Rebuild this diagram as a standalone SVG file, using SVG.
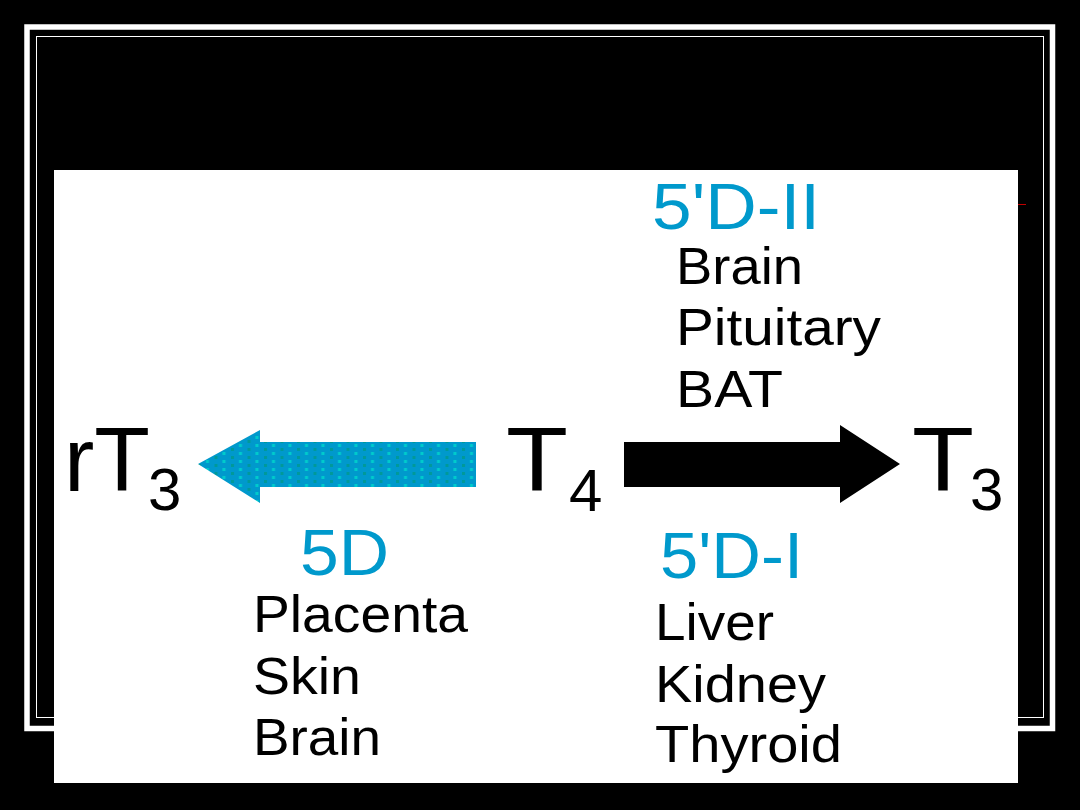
<svg xmlns="http://www.w3.org/2000/svg" width="1080" height="810" viewBox="0 0 1080 810">
  <defs>
    <pattern id="dots" x="0" y="0" width="16.5" height="8" patternUnits="userSpaceOnUse">
      <rect x="0" y="0" width="16.5" height="8" fill="#0099CC"/>
      <rect x="0" y="0" width="3" height="3" fill="#009999"/>
      <rect x="8" y="4" width="3" height="3" fill="#00CCCC"/>
    </pattern>
    <style>
      .big { font-family: "Liberation Sans", Arial, sans-serif; font-size: 91px; fill: #000; }
      .sub { font-family: "Liberation Sans", Arial, sans-serif; font-size: 60px; fill: #000; }
      .enz { font-family: "Liberation Sans", Arial, sans-serif; font-size: 65px; fill: #0099CC; }
      .tis { font-family: "Liberation Sans", Arial, sans-serif; font-size: 52px; fill: #000; }
    </style>
  </defs>
  <rect x="0" y="0" width="1080" height="810" fill="#000"/>
  <g id="frame">
    <rect x="27" y="27" width="1025.5" height="701.5" fill="none" stroke="#fff" stroke-width="5.5"/>
    <rect x="36.5" y="36.5" width="1007" height="681" fill="none" stroke="#fff" stroke-width="1"/>
    <rect x="54" y="170" width="964" height="613" fill="#fff"/>
    <line x1="1018" y1="204.5" x2="1026" y2="204.5" stroke="#C00000" stroke-width="1"/>
  </g>
  <g id="connectors">
    <polygon id="arrow-5D" points="198,464 260,430 260,442 476,442 476,487 260,487 260,503" fill="url(#dots)"/>
    <polygon id="arrow-5DI" points="624,442 840,442 840,425 900,464 840,503 840,487 624,487" fill="#000"/>
  </g>
  <g id="rT3">
    <text class="big" x="64" y="491" textLength="86" lengthAdjust="spacingAndGlyphs">rT</text>
    <text class="sub" x="148" y="510">3</text>
  </g>
  <g id="T4">
    <text class="big" x="506" y="491" textLength="62" lengthAdjust="spacingAndGlyphs">T</text>
    <text class="sub" x="569" y="511">4</text>
  </g>
  <g id="T3">
    <text class="big" x="912" y="491" textLength="62" lengthAdjust="spacingAndGlyphs">T</text>
    <text class="sub" x="970" y="510">3</text>
  </g>
  <g id="label-5DII">
    <text class="enz" x="652" y="229" textLength="168" lengthAdjust="spacingAndGlyphs">5'D-II</text>
    <text class="tis" x="676" y="284" textLength="127" lengthAdjust="spacingAndGlyphs">Brain</text>
    <text class="tis" x="676" y="345" textLength="205" lengthAdjust="spacingAndGlyphs">Pituitary</text>
    <text class="tis" x="676" y="407" textLength="107" lengthAdjust="spacingAndGlyphs">BAT</text>
  </g>
  <g id="label-5D">
    <text class="enz" x="300" y="575" textLength="89" lengthAdjust="spacingAndGlyphs">5D</text>
    <text class="tis" x="253" y="632" textLength="215" lengthAdjust="spacingAndGlyphs">Placenta</text>
    <text class="tis" x="253" y="694" textLength="108" lengthAdjust="spacingAndGlyphs">Skin</text>
    <text class="tis" x="253" y="755" textLength="128" lengthAdjust="spacingAndGlyphs">Brain</text>
  </g>
  <g id="label-5DI">
    <text class="enz" x="660" y="578" textLength="143" lengthAdjust="spacingAndGlyphs">5'D-I</text>
    <text class="tis" x="655" y="640" textLength="119" lengthAdjust="spacingAndGlyphs">Liver</text>
    <text class="tis" x="655" y="702" textLength="171" lengthAdjust="spacingAndGlyphs">Kidney</text>
    <text class="tis" x="655" y="762" textLength="187" lengthAdjust="spacingAndGlyphs">Thyroid</text>
  </g>
</svg>
